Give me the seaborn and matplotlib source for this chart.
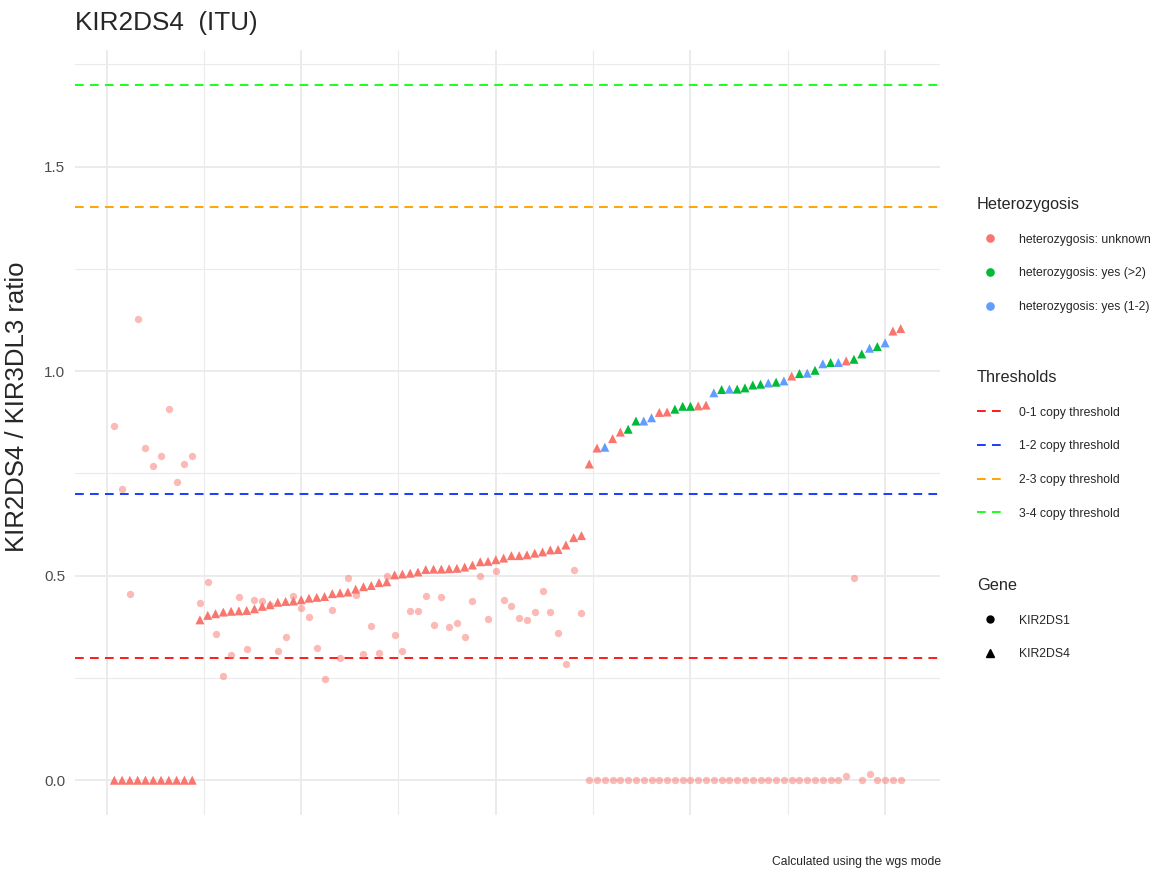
import matplotlib
matplotlib.use("Agg")
import matplotlib.pyplot as plt
from matplotlib.lines import Line2D
import numpy as np
import pandas as pd
import seaborn as sns

# ---- data -------------------------------------------------------------
kir2ds4_ratio = (
    [0.0] * 11
    + [0.392, 0.403, 0.407, 0.411, 0.413, 0.414, 0.415, 0.419, 0.425, 0.429,
       0.435, 0.437, 0.438, 0.441, 0.445, 0.447, 0.449, 0.456, 0.458, 0.460,
       0.467, 0.473, 0.476, 0.483, 0.485,
       0.502, 0.504, 0.506, 0.509, 0.515, 0.516, 0.516, 0.517, 0.518, 0.521,
       0.526, 0.534, 0.535, 0.539, 0.543, 0.549, 0.549, 0.551, 0.555, 0.558,
       0.563, 0.564, 0.575, 0.593, 0.598]
    + [0.773, 0.812, 0.814, 0.835, 0.851, 0.858, 0.878, 0.878, 0.886, 0.899,
       0.900, 0.907, 0.914, 0.914, 0.915, 0.917, 0.947, 0.955, 0.956, 0.956,
       0.959, 0.966, 0.968, 0.971, 0.973,
       0.976, 0.988, 0.994, 0.995, 1.002, 1.018, 1.021, 1.021, 1.025, 1.029,
       1.042, 1.056, 1.060, 1.069, 1.098, 1.104]
)

# U = unknown, G = yes (>2), B = yes (1-2)
kir2ds4_het_codes = (
    "U" * 61
    + "UUBUUGGBBUUGGGUUBGBGGGGBG"
    + "BUGBGBGBUGGBGBUU"
)

kir2ds1_ratio = (
    [0.865, 0.712, 0.455, 1.128, 0.812, 0.768, 0.793, 0.907, 0.729, 0.774, 0.793]
    + [0.433, 0.484, 0.358, 0.256, 0.306, 0.448, 0.320, 0.441, 0.438, 0.428,
       0.315, 0.350, 0.451, 0.420, 0.398, 0.324, 0.248, 0.416, 0.299, 0.495,
       0.452, 0.308, 0.378, 0.310, 0.500,
       0.355, 0.316, 0.413, 0.413, 0.451, 0.380, 0.448, 0.375, 0.384, 0.351,
       0.438, 0.500, 0.394, 0.511, 0.440, 0.425, 0.397, 0.392, 0.411, 0.463,
       0.412, 0.359, 0.284, 0.513, 0.410]
    + [0.0] * 33 + [0.011, 0.495, 0.0, 0.015] + [0.0] * 4
)

het_levels = ["heterozygosis: unknown", "heterozygosis: yes (>2)",
              "heterozygosis: yes (1-2)"]
het_colors = ["#F8766D", "#00BA38", "#619CFF"]
het_code_map = {"U": het_levels[0], "G": het_levels[1], "B": het_levels[2]}

threshold_values = [0.3, 0.7, 1.4, 1.7]
threshold_labels = ["0-1 copy threshold", "1-2 copy threshold",
                    "2-3 copy threshold", "3-4 copy threshold"]
threshold_colors = ["#FF1A1A", "#1A3CFF", "#FFA500", "#1AFF1A"]

gene_labels = ["KIR2DS1", "KIR2DS4"]

# ---- tidy frames -----------------------------------------------------
n = len(kir2ds4_ratio)
sample = np.arange(1, n + 1)
ds4 = pd.DataFrame({
    "sample": sample,
    "ratio": kir2ds4_ratio,
    "het": [het_code_map[c] for c in kir2ds4_het_codes],
})
ds1 = pd.DataFrame({"sample": sample, "ratio": kir2ds1_ratio})

# ---- style ----------------------------------------------------------
sns.set_theme(style="white")
plt.rcParams["font.family"] = ["Liberation Sans", "DejaVu Sans"]

W, H = 1158, 872
fig = plt.figure(figsize=(W / 100, H / 100), dpi=100)
px = lambda x: x / W
py = lambda y: 1 - y / H
ax = fig.add_axes([px(75), py(815), px(940) - px(75), py(50) - py(815)])

grid_c = "#EBEBEB"
ax.set_xlim(1 - 0.05 * (n - 1), n + 0.05 * (n - 1))
ax.set_ylim(-0.085, 1.785)
ax.set_xticks([0, 25, 50, 75, 100])
ax.set_xticks([12.5, 37.5, 62.5, 87.5], minor=True)
ax.set_yticks([0, 0.5, 1.0, 1.5])
ax.set_yticks([0.25, 0.75, 1.25, 1.75], minor=True)
ax.grid(which="major", color=grid_c, linewidth=1.4)
ax.grid(which="minor", color=grid_c, linewidth=0.8)
ax.set_axisbelow(True)
for s in ax.spines.values():
    s.set_visible(False)
ax.tick_params(axis="x", which="both", length=0, labelbottom=False)
ax.tick_params(axis="y", which="both", length=0, labelsize=11,
               labelcolor="#4D4D4D", pad=7)
ax.set_yticklabels(["0.0", "0.5", "1.0", "1.5"])

# threshold lines
dash = (0, (4.5, 3.2))
for v, c in zip(threshold_values, threshold_colors):
    ax.axhline(v, color=c, linewidth=1.4, linestyle=dash, zorder=1.5)

# KIR2DS1 points (semi-transparent circles)
sns.scatterplot(data=ds1, x="sample", y="ratio", ax=ax, color=het_colors[0],
                alpha=0.5, marker="o", s=28, linewidth=0, legend=False,
                zorder=2)

# KIR2DS4 points (triangles coloured by heterozygosis)
sns.scatterplot(data=ds4, x="sample", y="ratio", hue="het",
                hue_order=het_levels, palette=het_colors, ax=ax, marker="^",
                s=42, linewidth=0, legend=False, zorder=3)

ax.set_xlabel("")
ax.set_ylabel("KIR2DS4 / KIR3DL3 ratio", fontsize=18.5)
ax.yaxis.set_label_coords((29 - 75) / 865, (815 - 407) / 765)

# title and caption
fig.text(px(75), py(23), "KIR2DS4  (ITU)", fontsize=18.8, va="center",
         ha="left")
fig.text(px(941), py(862), "Calculated using the wgs mode", fontsize=8.7,
         va="center", ha="right")

# ---- legends -------------------------------------------------------
leg_kw = dict(loc="upper left", frameon=False, fontsize=8.8,
              title_fontsize=11.7, alignment="left", borderpad=0,
              borderaxespad=0, handlelength=2.2, handletextpad=1.23,
              labelspacing=1.77)

het_handles = [Line2D([], [], marker="o", color=c, linestyle="none",
                      markersize=5.2) for c in het_colors]
fig.legend(het_handles, het_levels, title="Heterozygosis",
           bbox_to_anchor=(px(977), py(197)), **leg_kw)

thr_handles = [Line2D([], [], color=c, linewidth=1.4, linestyle=dash)
               for c in threshold_colors]
fig.legend(thr_handles, threshold_labels, title="Thresholds",
           bbox_to_anchor=(px(977), py(370)), **leg_kw)

gene_handles = [Line2D([], [], marker="o", color="black", linestyle="none",
                       markersize=5.0),
                Line2D([], [], marker="^", color="black", linestyle="none",
                       markersize=5.8)]
fig.legend(gene_handles, gene_labels, title="Gene",
           bbox_to_anchor=(px(977), py(578)), **leg_kw)

fig.savefig("out.png", dpi=100)
